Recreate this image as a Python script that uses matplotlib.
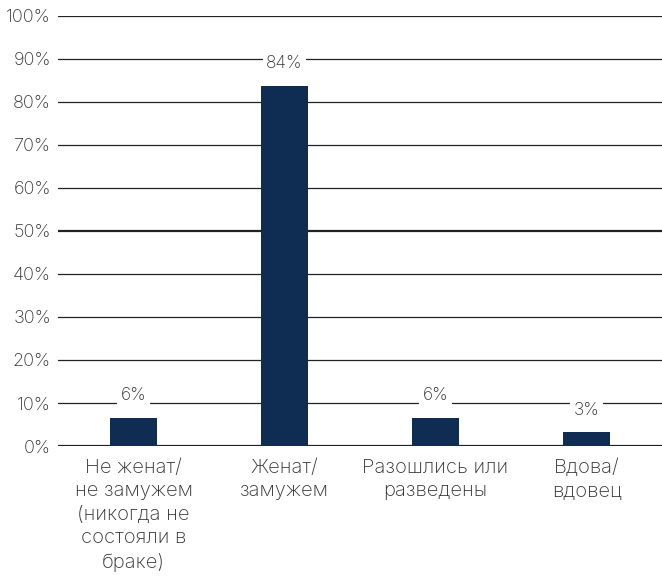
import matplotlib.pyplot as plt
import numpy as np

plt.rcParams['font.family'] = ['Inter', 'DejaVu Sans']
plt.rcParams['font.weight'] = 'light'

categories = ['Не женат/\nне замужем\n(никогда не\nсостояли в\nбраке)',
              'Женат/\nзамужем',
              'Разошлись или\nразведены',
              'Вдова/\nвдовец']
values = [6.5, 83.8, 6.5, 3.2]
labels = ['6%', '84%', '6%', '3%']
yticks = list(range(0, 101, 10))

bar_color = '#0f2d52'
text_color = '#333333'

fig = plt.figure(figsize=(6.62, 5.79), dpi=100)
ax = fig.add_axes([0.0876, 0.2297, 0.9124, 0.7427])

x = np.arange(len(categories))
for t in yticks:
    lw = 1.6 if t in (0, 50, 100) else 0.9
    ax.axhline(t, color='#222222', lw=lw, zorder=1)

ax.bar(x, values, width=0.31, color=bar_color, zorder=2)

for xi, v, lab in zip(x, values, labels):
    ax.annotate(lab, (xi, v), xytext=(0, 16), textcoords='offset points',
                ha='center', va='center', fontsize=12.5, color=text_color,
                bbox=dict(boxstyle='square,pad=0.2', fc='white', ec='none'),
                zorder=3)

ax.set_xlim(-0.5, len(categories) - 0.5)
ax.set_ylim(0, 100)
ax.set_yticks(yticks)
ax.set_yticklabels([f'{t}%' for t in yticks], fontsize=13, color=text_color)
ax.set_xticks(x)
ax.set_xticklabels(categories, fontsize=14.5, color=text_color, linespacing=1.4)
ax.tick_params(axis='both', length=0)
ax.tick_params(axis='y', pad=5)
ax.tick_params(axis='x', pad=9)
for s in ax.spines.values():
    s.set_visible(False)

fig.savefig('out.png', dpi=100)
